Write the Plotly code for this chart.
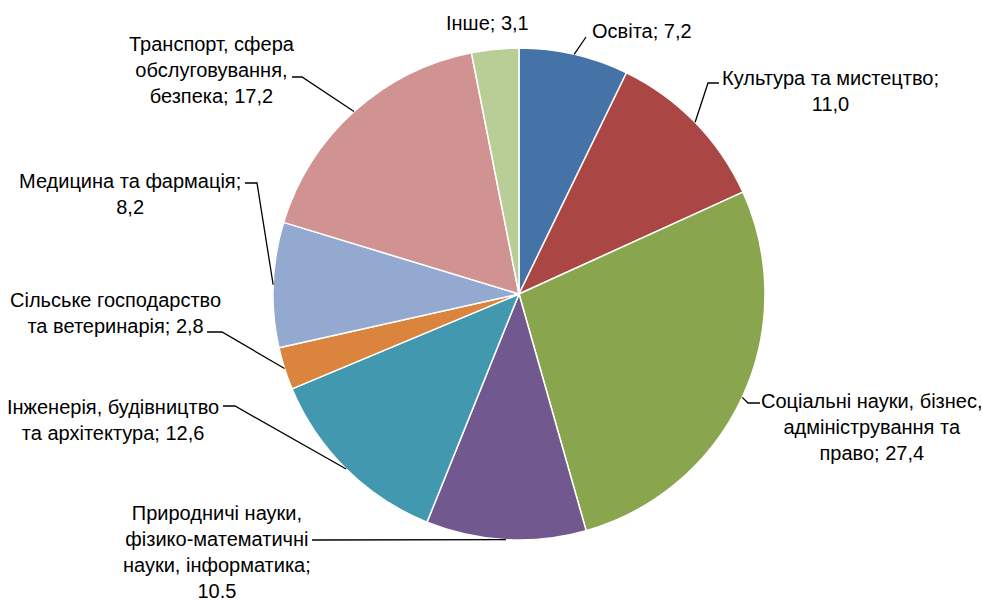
import math
import plotly.graph_objects as go

# ---- data ----
categories = [
    "Освіта", "Культура та мистецтво", "Соціальні науки, бізнес, адміністрування та право",
    "Природничі науки, фізико-математичні науки, інформатика", "Інженерія, будівництво та архітектура",
    "Сільське господарство та ветеринарія", "Медицина та фармація",
    "Транспорт, сфера обслуговування, безпека", "Інше",
]
values = [7.2, 11.0, 27.4, 10.5, 12.6, 2.8, 8.2, 17.2, 3.1]
label_texts = [
    "Освіта; 7,2",
    "Культура та мистецтво;<br>11,0",
    "Соціальні науки, бізнес,<br>адміністрування та<br>право; 27,4",
    "Природничі науки,<br>фізико-математичні<br>науки, інформатика;<br>10.5",
    "Інженерія, будівництво<br>та архітектура; 12,6",
    "Сільське господарство<br>та ветеринарія; 2,8",
    "Медицина та фармація;<br>8,2",
    "Транспорт, сфера<br>обслуговування,<br>безпека; 17,2",
    "Інше; 3,1",
]
colors = ["#4572A7", "#AA4643", "#89A54E", "#71588F", "#4198AF",
          "#DB843D", "#93A9CF", "#D19392", "#B9CD96"]

# ---- layout (pixels) ----
W, H = 983, 601
CX, CY, R = 519, 294, 246
FONT = dict(family="Liberation Sans Narrow, Arial Narrow, Liberation Sans, Arial", size=20, color="#000000")

# label placement: (x, y, xanchor) and leader elbow points
label_pos = [
    (590, 31, "left"), (830, 91, "center"), (872, 427, "center"), (217, 552, "center"),
    (113, 420, "center"), (115, 313, "center"), (130, 194, "center"), (212, 70, "center"),
    (487, 23, "center"),
]
leader_elbows = [
    [(586, 37)],
    [(708, 83), (719, 83)],
    [(748, 403), (760, 403)],
    [(312, 540)],
    [(235, 406), (223, 406)],
    [(222, 332), (207, 332)],
    [(257, 183), (245, 183)],
    [(302, 77), (292, 77)],
    None,
]

def px(x):
    return x / W

def py(y):
    return 1 - y / H

fig = go.Figure(go.Pie(
    labels=categories, values=values, sort=False, direction="clockwise", rotation=0,
    marker=dict(colors=colors, line=dict(color="#FFFFFF", width=1.5)),
    textinfo="none", hoverinfo="label+value", showlegend=False,
    domain=dict(x=[px(CX - R), px(CX + R)], y=[py(CY + R), py(CY - R)]),
))

total = sum(values)
cum = 0.0
shapes, annotations = [], []
for i, v in enumerate(values):
    mid = (cum + v / 2) / total * 2 * math.pi
    cum += v
    ex, ey = CX + R * math.sin(mid), CY - R * math.cos(mid)
    if leader_elbows[i]:
        pts = [(ex, ey)] + leader_elbows[i]
        path = "M " + " L ".join(f"{px(x):.5f},{py(y):.5f}" for x, y in pts)
        shapes.append(dict(type="path", xref="paper", yref="paper", path=path,
                           line=dict(color="#000000", width=1.3)))
    lx, ly, anc = label_pos[i]
    annotations.append(dict(x=px(lx), y=py(ly), xref="paper", yref="paper", text=label_texts[i],
                            showarrow=False, xanchor=anc, yanchor="middle", align="center", font=FONT))

fig.update_layout(
    width=W, height=H, autosize=False, margin=dict(l=0, r=0, t=0, b=0),
    paper_bgcolor="#FFFFFF", plot_bgcolor="#FFFFFF",
    shapes=shapes, annotations=annotations,
)
fig.write_html("out.html", config={"displayModeBar": False},
               post_script="document.body.style.margin='0';")
